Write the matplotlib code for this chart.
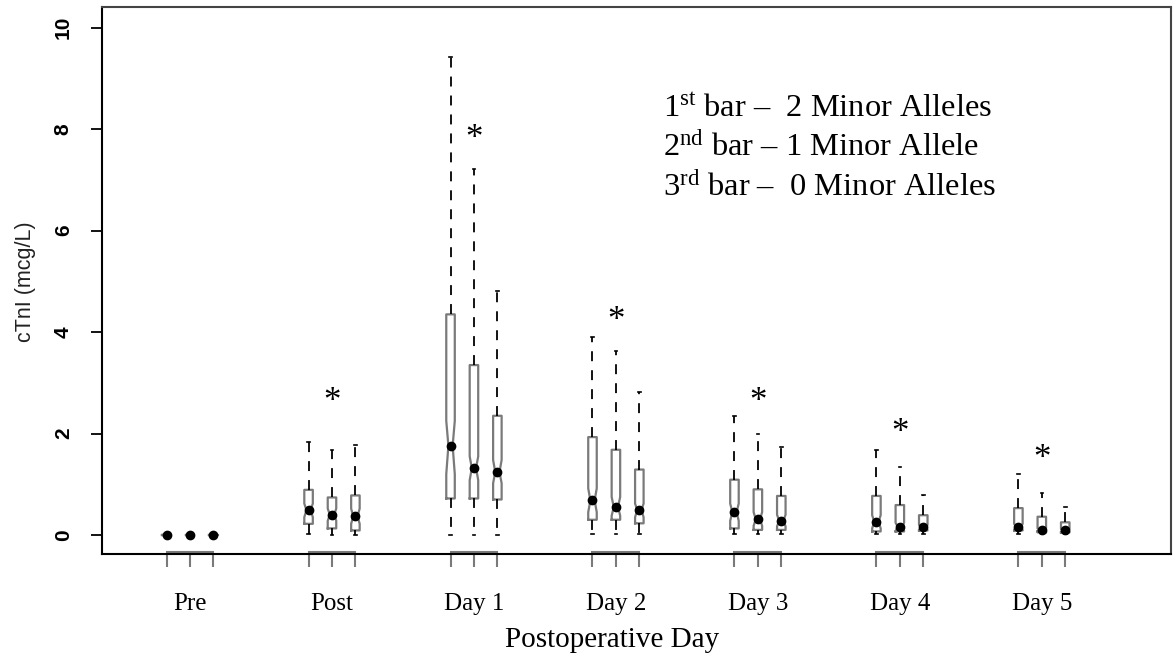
import numpy as np
import matplotlib
matplotlib.use("Agg")
import matplotlib.pyplot as plt
from matplotlib.transforms import blended_transform_factory

plt.rcParams['mathtext.fontset'] = 'custom'
plt.rcParams['mathtext.rm'] = 'Liberation Serif'
plt.rcParams['mathtext.it'] = 'Liberation Serif:italic'

# ---- data ----
groups = ["Pre", "Post", "Day 1", "Day 2", "Day 3", "Day 4", "Day 5"]
# three boxes per group: 2, 1, 0 minor alleles
whislo = [0, 0, 0,   0.02, 0.0, 0.0,   0.0, 0.0, 0.0,   0.02, 0.02, 0.02,
          0.02, 0.02, 0.02,   0.02, 0.02, 0.02,   0.02, 0.02, 0.02]
q1 = [0, 0, 0,   0.22, 0.13, 0.09,   0.72, 0.72, 0.70,   0.30, 0.30, 0.23,
      0.13, 0.10, 0.10,   0.07, 0.07, 0.09,   0.09, 0.07, 0.05]
med = [0, 0, 0,   0.49, 0.40, 0.37,   1.76, 1.32, 1.24,   0.68, 0.55, 0.49,
       0.45, 0.31, 0.28,   0.26, 0.16, 0.15,   0.16, 0.09, 0.09]
q3 = [0, 0, 0,   0.89, 0.74, 0.78,   4.35, 3.35, 2.35,   1.93, 1.68, 1.29,
      1.09, 0.90, 0.77,   0.77, 0.59, 0.39,   0.53, 0.36, 0.25]
whishi = [0, 0, 0,   1.83, 1.68, 1.78,   9.42, 7.22, 4.82,   3.90, 3.62, 2.81,
          2.35, 1.99, 1.73,   1.68, 1.34, 0.79,   1.20, 0.82, 0.56]
ci_lo = [0, 0, 0,   0.35, 0.28, 0.22,   1.20, 1.08, 1.02,   0.45, 0.38, 0.35,
         0.28, 0.18, 0.17,   0.13, 0.08, 0.10,   0.10, 0.05, 0.06]
ci_hi = [0, 0, 0,   0.62, 0.52, 0.52,   2.25, 1.55, 1.48,   0.92, 0.75, 0.62,
         0.62, 0.45, 0.40,   0.39, 0.24, 0.20,   0.22, 0.13, 0.12]
star_groups = ["Post", "Day 1", "Day 2", "Day 3", "Day 4", "Day 5"]
star_y = [2.62, 7.80, 4.20, 2.62, 2.00, 1.48]
legend_lines = [r"1$^{\mathrm{st}}$ bar –  2 Minor Alleles",
                r"2$^{\mathrm{nd}}$ bar – 1 Minor Allele",
                r"3$^{\mathrm{rd}}$ bar –  0 Minor Alleles"]

# ---- layout ----
W, H = 1175, 658
fig = plt.figure(figsize=(W / 100, H / 100), dpi=100)
ax = fig.add_axes([102 / W, 1 - 554 / H, (1171 - 102) / W, (554 - 7) / H])

centers = np.arange(1, len(groups) + 1)
offsets = [-0.165, 0.0, 0.165]
positions = [c + o for c in centers for o in offsets]

stats = []
for i in range(len(positions)):
    stats.append(dict(whislo=whislo[i], q1=q1[i], med=med[i], q3=q3[i],
                      whishi=whishi[i], cilo=ci_lo[i], cihi=ci_hi[i],
                      fliers=[]))

boxcol = '#7a7a7a'
ax.bxp(stats, positions=positions, widths=0.06, shownotches=True,
       showfliers=False, capwidths=0.018, patch_artist=False,
       boxprops=dict(color=boxcol, linewidth=1.6),
       whiskerprops=dict(color='black', linewidth=1.3, linestyle=(0, (5.5, 5))),
       capprops=dict(color='black', linewidth=1.2),
       medianprops=dict(color='black', linewidth=2.5))
ax.plot(positions, med, 'o', color='black', ms=6, zorder=5)

# asterisks
for g, y in zip(star_groups, star_y):
    x = centers[groups.index(g)]
    ax.text(x, y, "*", ha='center', va='center', fontsize=25,
            family='Liberation Serif', color='black')

ax.set_xlim(0.38, 7.91)
ax.set_ylim(-0.375, 10.41)

# y axis
ax.set_yticks([0, 2, 4, 6, 8, 10])
ax.tick_params(axis='y', direction='out', length=8, width=1.3, pad=13,
               labelsize=15, labelrotation=90)
for lab in ax.get_yticklabels():
    lab.set_family('Liberation Sans')
    lab.set_fontweight('bold')
    lab.set_va('center')

# x axis: ticks at every box, labels at group centres
ax.xaxis.remove_overlapping_locs = False
ax.set_xticks(positions)
ax.set_xticklabels([])
ax.tick_params(axis='x', which='major', direction='out', length=9.5,
               width=1.5, color=boxcol)
ax.set_xticks(centers, labels=groups, minor=True)
ax.tick_params(axis='x', which='minor', length=0, pad=28, labelsize=18)
for lab in ax.get_xticklabels(minor=True):
    lab.set_family('Liberation Serif')

trans = blended_transform_factory(ax.transData, ax.transAxes)
for gi in range(len(groups)):
    p = positions[gi * 3:(gi + 1) * 3]
    ax.plot([p[0], p[-1]], [0.003, 0.003], transform=trans, color=boxcol,
            lw=1.5, clip_on=False)

for s in ['left', 'bottom']:
    ax.spines[s].set_color('black')
    ax.spines[s].set_linewidth(1.5)
for s in ['top', 'right']:
    ax.spines[s].set_color('#444444')
    ax.spines[s].set_linewidth(1.5)

fig.text(25 / W, 1 - 282 / H, "cTnI (mcg/L)", rotation=90, ha='center',
         va='center', fontsize=15.5, family='Liberation Sans', color='#222222')
fig.text(612 / W, 1 - 640 / H, "Postoperative Day", ha='center', va='center',
         fontsize=21, family='Liberation Serif')

for k, line in enumerate(legend_lines):
    fig.text(663 / W, 1 - (116 + 40 * k) / H, line, ha='left',
             va='baseline', fontsize=23.4, family='Liberation Serif')

fig.savefig("out.png", dpi=100)
